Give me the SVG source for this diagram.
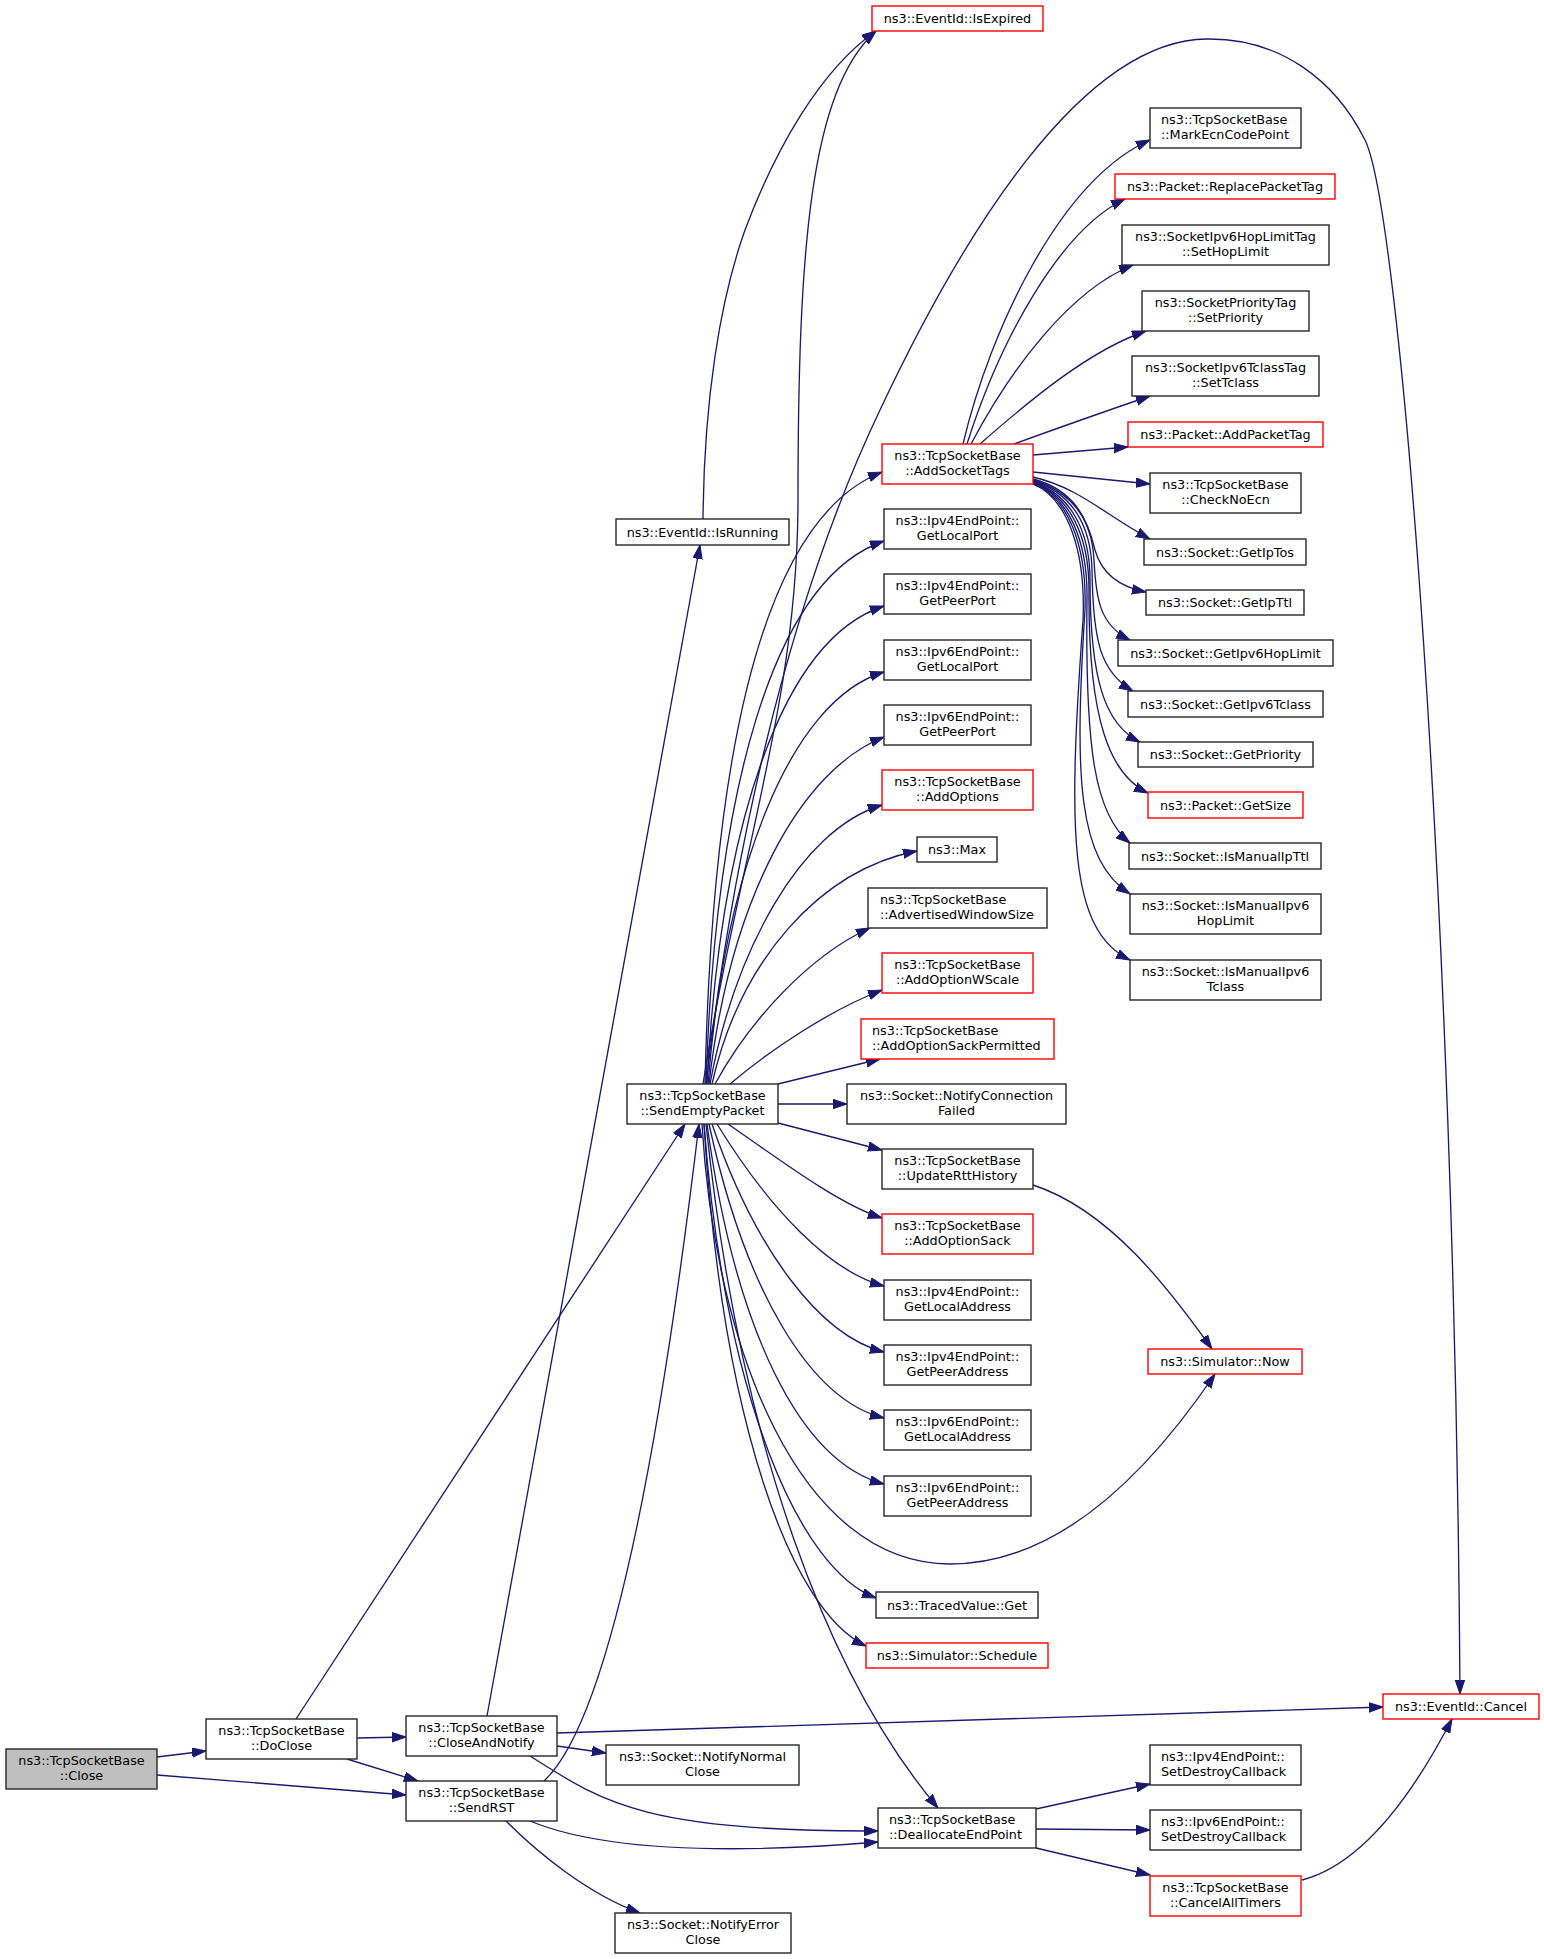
<svg xmlns="http://www.w3.org/2000/svg" width="1544" height="1959" viewBox="0 0 1544 1959">
<style>
rect{fill:#ffffff;stroke:#262626;stroke-width:1.4}
.red rect{stroke:#ff0000}
.gray rect{fill:#bfbfbf}
text{font-family:"DejaVu Sans","Liberation Sans",sans-serif;font-size:12.8px;fill:#000000;text-anchor:middle}
text.l{text-anchor:start}
#edges path{fill:none;stroke:#191970;stroke-width:1.33;marker-end:url(#ah)}
</style>
<defs>
<marker id="ah" markerUnits="userSpaceOnUse" markerWidth="15" markerHeight="11" refX="14" refY="5" orient="auto">
<path d="M0,0.3 L14,5 L0,9.7 z" fill="#191970" stroke="#191970" stroke-width="1"/>
</marker>
</defs>
<rect x="0" y="0" width="1544" height="1959" style="fill:#ffffff;stroke:none"/>
<g id="edges">
<path d="M157,1757 L206,1751"/>
<path d="M157,1775 L406,1795"/>
<path d="M357,1738 L406,1737"/>
<path d="M347,1759 L418,1781"/>
<path d="M296,1719 L685,1124"/>
<path d="M487,1716 L700,545"/>
<path d="M557,1733 L1383,1707"/>
<path d="M557,1746 L606,1753"/>
<path d="M530,1756 C600,1800 640,1832 878,1831"/>
<path d="M544,1781 C610,1720 660,1450 699,1124"/>
<path d="M530,1821 C600,1850 720,1855 878,1842"/>
<path d="M506,1821 C540,1855 590,1895 640,1913"/>
<path d="M703,519 C704,400 720,300 745,230 C775,150 820,70 876,31"/>
<path d="M703,1084 C740,850 798,700 798,500 C798,250 810,90 876,31"/>
<path d="M706,1084 C730,880 780,620 880,410 C960,240 1080,40 1207,39 C1280,38 1335,80 1365,140 C1400,210 1455,900 1460,1694"/>
<path d="M705,1084 C712,760 760,520 882,472"/>
<path d="M706,1084 C715,800 770,580 884,541"/>
<path d="M707,1084 C720,830 780,640 884,606"/>
<path d="M708,1084 C725,870 790,700 884,672"/>
<path d="M709,1084 C730,900 800,770 884,737"/>
<path d="M710,1084 C735,950 800,830 882,805"/>
<path d="M712,1084 C740,960 820,870 917,851"/>
<path d="M715,1084 C750,1020 810,955 870,928"/>
<path d="M730,1084 C770,1050 830,1010 882,990"/>
<path d="M778,1084 L880,1059"/>
<path d="M778,1104 L847,1104"/>
<path d="M778,1123 L882,1150"/>
<path d="M728,1124 C780,1160 840,1205 882,1218"/>
<path d="M717,1124 C770,1210 830,1272 884,1286"/>
<path d="M712,1124 C755,1250 820,1336 884,1352"/>
<path d="M709,1124 C745,1290 810,1400 884,1418"/>
<path d="M707,1124 C735,1330 800,1462 884,1484"/>
<path d="M704,1124 C725,1400 800,1570 876,1598"/>
<path d="M704,1124 C722,1420 790,1610 866,1646"/>
<path d="M706,1124 C740,1450 830,1680 938,1808"/>
<path d="M702,1124 C715,1350 800,1564 950,1564 C1060,1564 1150,1470 1215,1374"/>
<path d="M1033,1185 C1110,1210 1170,1290 1212,1349"/>
<path d="M963,444 C990,330 1060,180 1150,140"/>
<path d="M967,444 C1000,340 1060,230 1125,199"/>
<path d="M971,444 C1010,370 1070,290 1133,265"/>
<path d="M980,444 C1030,400 1090,350 1146,331"/>
<path d="M1014,444 Q1080,420 1150,396"/>
<path d="M1033,455 L1128,447"/>
<path d="M1033,472 L1150,484"/>
<path d="M1033,477 C1080,488 1105,515 1150,539"/>
<path d="M1033,479 C1075,490 1088,520 1095,550 C1102,575 1120,587 1146,592"/>
<path d="M1033,480 C1072,492 1092,520 1094,560 C1096,600 1100,625 1130,640"/>
<path d="M1033,481 C1072,493 1091,525 1092,570 C1093,640 1100,672 1133,691"/>
<path d="M1033,482 C1070,494 1090,530 1090,580 C1090,680 1105,725 1140,742"/>
<path d="M1033,483 C1069,495 1089,535 1089,590 C1088,720 1110,775 1148,793"/>
<path d="M1033,483 C1068,496 1088,540 1087,600 C1085,750 1095,815 1130,843"/>
<path d="M1033,484 C1068,497 1087,545 1085,610 C1074,780 1078,860 1130,894"/>
<path d="M1033,484 C1067,498 1086,550 1083,620 C1068,830 1068,930 1130,960"/>
<path d="M1036,1809 L1150,1784"/>
<path d="M1036,1829 L1150,1830"/>
<path d="M1036,1848 L1150,1875"/>
<path d="M1302,1880 C1360,1865 1410,1800 1452,1719"/>
</g>
<g id="n_close" class="gray"><rect x="6" y="1749" width="151" height="40"/><text x="81.5" y="1765.3">ns3::TcpSocketBase</text><text x="81.5" y="1780">::Close</text></g>
<g id="n_doclose"><rect x="206" y="1719" width="151" height="40"/><text x="281.5" y="1735.3">ns3::TcpSocketBase</text><text x="281.5" y="1750">::DoClose</text></g>
<g id="n_closeandnotify"><rect x="406" y="1716" width="151" height="40"/><text x="481.5" y="1732.3">ns3::TcpSocketBase</text><text x="481.5" y="1747">::CloseAndNotify</text></g>
<g id="n_sendrst"><rect x="406" y="1781" width="151" height="40"/><text x="481.5" y="1797.3">ns3::TcpSocketBase</text><text x="481.5" y="1812">::SendRST</text></g>
<g id="n_isrunning"><rect x="616" y="519" width="173" height="26"/><text x="702.5" y="536.5">ns3::EventId::IsRunning</text></g>
<g id="n_sendemptypacket"><rect x="627" y="1084" width="151" height="40"/><text x="702.5" y="1100.3">ns3::TcpSocketBase</text><text x="702.5" y="1115">::SendEmptyPacket</text></g>
<g id="n_notifynormalclose"><rect x="606" y="1745" width="193" height="40"/><text x="702.5" y="1761.3">ns3::Socket::NotifyNormal</text><text x="702.5" y="1776">Close</text></g>
<g id="n_notifyerrorclose"><rect x="615" y="1913" width="176" height="40"/><text x="703" y="1929.3">ns3::Socket::NotifyError</text><text x="703" y="1944">Close</text></g>
<g id="n_isexpired" class="red"><rect x="872" y="6" width="171" height="25"/><text x="957.5" y="23">ns3::EventId::IsExpired</text></g>
<g id="n_addsockettags" class="red"><rect x="882" y="444" width="151" height="40"/><text x="957.5" y="460.3">ns3::TcpSocketBase</text><text x="957.5" y="475">::AddSocketTags</text></g>
<g id="n_ipv4getlocalport"><rect x="884" y="509" width="147" height="40"/><text x="957.5" y="525.3">ns3::Ipv4EndPoint::</text><text x="957.5" y="540">GetLocalPort</text></g>
<g id="n_ipv4getpeerport"><rect x="884" y="574" width="147" height="40"/><text x="957.5" y="590.3">ns3::Ipv4EndPoint::</text><text x="957.5" y="605">GetPeerPort</text></g>
<g id="n_ipv6getlocalport"><rect x="884" y="640" width="147" height="40"/><text x="957.5" y="656.3">ns3::Ipv6EndPoint::</text><text x="957.5" y="671">GetLocalPort</text></g>
<g id="n_ipv6getpeerport"><rect x="884" y="705" width="147" height="40"/><text x="957.5" y="721.3">ns3::Ipv6EndPoint::</text><text x="957.5" y="736">GetPeerPort</text></g>
<g id="n_addoptions" class="red"><rect x="882" y="770" width="151" height="40"/><text x="957.5" y="786.3">ns3::TcpSocketBase</text><text x="957.5" y="801">::AddOptions</text></g>
<g id="n_max"><rect x="917" y="837" width="80" height="25"/><text x="957" y="854">ns3::Max</text></g>
<g id="n_advertisedwindowsize"><rect x="868" y="888" width="179" height="40"/><text class="l" x="880" y="904.3">ns3::TcpSocketBase</text><text class="l" x="880" y="919">::AdvertisedWindowSize</text></g>
<g id="n_addoptionwscale" class="red"><rect x="882" y="953" width="151" height="40"/><text x="957.5" y="969.3">ns3::TcpSocketBase</text><text x="957.5" y="984">::AddOptionWScale</text></g>
<g id="n_addoptionsackpermitted" class="red"><rect x="861" y="1019" width="193" height="40"/><text class="l" x="872" y="1035.3">ns3::TcpSocketBase</text><text class="l" x="872" y="1050">::AddOptionSackPermitted</text></g>
<g id="n_notifyconnectionfailed"><rect x="847" y="1084" width="219" height="40"/><text x="956.5" y="1100.3">ns3::Socket::NotifyConnection</text><text x="956.5" y="1115">Failed</text></g>
<g id="n_updatertthistory"><rect x="882" y="1149" width="151" height="40"/><text x="957.5" y="1165.3">ns3::TcpSocketBase</text><text x="957.5" y="1180">::UpdateRttHistory</text></g>
<g id="n_addoptionsack" class="red"><rect x="882" y="1214" width="151" height="40"/><text x="957.5" y="1230.3">ns3::TcpSocketBase</text><text x="957.5" y="1245">::AddOptionSack</text></g>
<g id="n_ipv4getlocaladdress"><rect x="884" y="1280" width="147" height="40"/><text x="957.5" y="1296.3">ns3::Ipv4EndPoint::</text><text x="957.5" y="1311">GetLocalAddress</text></g>
<g id="n_ipv4getpeeraddress"><rect x="884" y="1345" width="147" height="40"/><text x="957.5" y="1361.3">ns3::Ipv4EndPoint::</text><text x="957.5" y="1376">GetPeerAddress</text></g>
<g id="n_ipv6getlocaladdress"><rect x="884" y="1410" width="147" height="40"/><text x="957.5" y="1426.3">ns3::Ipv6EndPoint::</text><text x="957.5" y="1441">GetLocalAddress</text></g>
<g id="n_ipv6getpeeraddress"><rect x="884" y="1476" width="147" height="40"/><text x="957.5" y="1492.3">ns3::Ipv6EndPoint::</text><text x="957.5" y="1507">GetPeerAddress</text></g>
<g id="n_tracedvalueget"><rect x="876" y="1592" width="162" height="26"/><text x="957" y="1609.5">ns3::TracedValue::Get</text></g>
<g id="n_simulatorschedule" class="red"><rect x="866" y="1643" width="182" height="25"/><text x="957" y="1660">ns3::Simulator::Schedule</text></g>
<g id="n_deallocateendpoint"><rect x="878" y="1808" width="158" height="40"/><text class="l" x="889" y="1824.3">ns3::TcpSocketBase</text><text class="l" x="889" y="1839">::DeallocateEndPoint</text></g>
<g id="n_markecncodepoint"><rect x="1150" y="108" width="151" height="40"/><text class="l" x="1161" y="124.3">ns3::TcpSocketBase</text><text class="l" x="1161" y="139">::MarkEcnCodePoint</text></g>
<g id="n_replacepackettag" class="red"><rect x="1115" y="174" width="220" height="25"/><text x="1225" y="191">ns3::Packet::ReplacePacketTag</text></g>
<g id="n_sethoplimit"><rect x="1122" y="225" width="207" height="40"/><text x="1225.5" y="241.3">ns3::SocketIpv6HopLimitTag</text><text x="1225.5" y="256">::SetHopLimit</text></g>
<g id="n_setpriority"><rect x="1142" y="291" width="167" height="40"/><text x="1225.5" y="307.3">ns3::SocketPriorityTag</text><text x="1225.5" y="322">::SetPriority</text></g>
<g id="n_settclass"><rect x="1132" y="356" width="187" height="40"/><text x="1225.5" y="372.3">ns3::SocketIpv6TclassTag</text><text x="1225.5" y="387">::SetTclass</text></g>
<g id="n_addpackettag" class="red"><rect x="1128" y="422" width="195" height="25"/><text x="1225.5" y="439">ns3::Packet::AddPacketTag</text></g>
<g id="n_checknoecn"><rect x="1150" y="473" width="151" height="40"/><text x="1225.5" y="489.3">ns3::TcpSocketBase</text><text x="1225.5" y="504">::CheckNoEcn</text></g>
<g id="n_getiptos"><rect x="1144" y="539" width="162" height="26"/><text x="1225" y="556.5">ns3::Socket::GetIpTos</text></g>
<g id="n_getipttl"><rect x="1146" y="590" width="158" height="25"/><text x="1225" y="607">ns3::Socket::GetIpTtl</text></g>
<g id="n_getipv6hoplimit"><rect x="1118" y="640" width="215" height="26"/><text x="1225.5" y="657.5">ns3::Socket::GetIpv6HopLimit</text></g>
<g id="n_getipv6tclass"><rect x="1128" y="691" width="195" height="26"/><text x="1225.5" y="708.5">ns3::Socket::GetIpv6Tclass</text></g>
<g id="n_getpriority"><rect x="1138" y="742" width="175" height="25"/><text x="1225.5" y="759">ns3::Socket::GetPriority</text></g>
<g id="n_getsize" class="red"><rect x="1148" y="792" width="155" height="26"/><text x="1225.5" y="809.5">ns3::Packet::GetSize</text></g>
<g id="n_ismanualipttl"><rect x="1129" y="843" width="192" height="26"/><text x="1225" y="860.5">ns3::Socket::IsManualIpTtl</text></g>
<g id="n_ismanualipv6hoplimit"><rect x="1130" y="894" width="191" height="40"/><text x="1225.5" y="910.3">ns3::Socket::IsManualIpv6</text><text x="1225.5" y="925">HopLimit</text></g>
<g id="n_ismanualipv6tclass"><rect x="1130" y="960" width="191" height="40"/><text x="1225.5" y="976.3">ns3::Socket::IsManualIpv6</text><text x="1225.5" y="991">Tclass</text></g>
<g id="n_simulatornow" class="red"><rect x="1148" y="1349" width="154" height="25"/><text x="1225" y="1366">ns3::Simulator::Now</text></g>
<g id="n_eventidcancel" class="red"><rect x="1383" y="1694" width="156" height="25"/><text x="1461" y="1711">ns3::EventId::Cancel</text></g>
<g id="n_ipv4setdestroycallback"><rect x="1150" y="1745" width="151" height="40"/><text class="l" x="1161" y="1761.3">ns3::Ipv4EndPoint::</text><text class="l" x="1161" y="1776">SetDestroyCallback</text></g>
<g id="n_ipv6setdestroycallback"><rect x="1150" y="1810" width="151" height="40"/><text class="l" x="1161" y="1826.3">ns3::Ipv6EndPoint::</text><text class="l" x="1161" y="1841">SetDestroyCallback</text></g>
<g id="n_cancelalltimers" class="red"><rect x="1150" y="1876" width="151" height="40"/><text x="1225.5" y="1892.3">ns3::TcpSocketBase</text><text x="1225.5" y="1907">::CancelAllTimers</text></g>
</svg>
